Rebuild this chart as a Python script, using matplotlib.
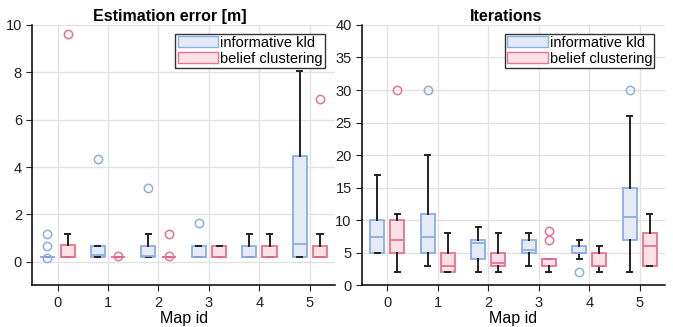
import numpy as np
import matplotlib
matplotlib.use("Agg")
from matplotlib import pyplot as plt
from matplotlib.patches import Patch

plt.rcParams['font.family'] = ['Liberation Sans', 'DejaVu Sans']

# ------------------------------------------------------------------------------
# Box statistics (per map id 0..5)
# ------------------------------------------------------------------------------
mapIds = [0, 1, 2, 3, 4, 5]
seriesNames = ['informative kld', 'belief clustering']

# Estimation error [m]
errKldMed = [0.2, 0.28, 0.25, 0.2, 0.2, 0.76]
errKldQ1 = [0.2, 0.2, 0.2, 0.2, 0.2, 0.2]
errKldQ3 = [0.2, 0.68, 0.68, 0.68, 0.68, 4.47]
errKldLo = [0.2, 0.2, 0.2, 0.2, 0.2, 0.2]
errKldHi = [0.2, 0.68, 1.17, 0.68, 1.17, 8.07]
errKldFly = [[1.17, 0.66, 0.18], [4.34], [3.11], [1.65], [], []]

errBcMed = [0.2, 0.2, 0.2, 0.2, 0.2, 0.2]
errBcQ1 = [0.2, 0.2, 0.2, 0.2, 0.2, 0.2]
errBcQ3 = [0.69, 0.2, 0.2, 0.68, 0.68, 0.68]
errBcLo = [0.2, 0.2, 0.2, 0.2, 0.2, 0.2]
errBcHi = [1.17, 0.2, 0.2, 0.68, 1.17, 1.17]
errBcFly = [[9.6], [0.25], [1.17, 0.25], [], [], [6.86]]

# Iterations
itKldMed = [7.5, 7.5, 6.5, 5.5, 5, 10.5]
itKldQ1 = [5, 5, 4, 5, 5, 7]
itKldQ3 = [10, 11, 7, 7, 6, 15]
itKldLo = [5, 3, 2, 3, 4, 2]
itKldHi = [17, 20, 9, 8, 7, 26]
itKldFly = [[], [30], [], [], [2], [30]]

itBcMed = [7, 3, 3.5, 4, 3, 6]
itBcQ1 = [5, 2, 3, 3, 3, 3]
itBcQ3 = [10, 5, 5, 4, 5, 8]
itBcLo = [2, 2, 2, 2, 2, 3]
itBcHi = [11, 8, 8, 4, 6, 11]
itBcFly = [[30], [], [], [8.3, 7.0], [], []]

blueEdge = '#8aaee6'
blueFill = '#e4ebf7'
redEdge = '#e8728f'
redFill = '#fce1e7'
whiskCol = '#222222'


def makeStats(med, q1, q3, lo, hi, fly):
    out = []
    for i in range(len(med)):
        out.append({'med': med[i], 'q1': q1[i], 'q3': q3[i],
                    'whislo': lo[i], 'whishi': hi[i], 'fliers': fly[i]})
    return out


def drawGroup(ax, stats, offset, edge, fill):
    pos = [m + offset for m in mapIds]
    ax.bxp(stats, positions=pos, widths=0.28, patch_artist=True,
           showfliers=True, capwidths=0.1,
           boxprops=dict(facecolor=fill, edgecolor=edge, linewidth=1.3),
           medianprops=dict(color=edge, linewidth=1.3),
           whiskerprops=dict(color=whiskCol, linewidth=1.4),
           capprops=dict(color=whiskCol, linewidth=1.4),
           flierprops=dict(marker='o', markerfacecolor='none',
                           markeredgecolor=edge, markersize=6,
                           markeredgewidth=1.1))


def styleAxis(ax, title, titleX, ylim, yticks):
    ax.set_xlim(-0.5, 5.5)
    ax.set_ylim(*ylim)
    ax.set_yticks(yticks)
    ax.set_xticks(mapIds)
    ax.set_xticklabels([str(m) for m in mapIds])
    ax.set_title(title, fontsize=11.5, fontweight='bold', pad=3, x=titleX)
    ax.set_xlabel('Map id', fontsize=11.5, labelpad=1)
    ax.grid(True, color='#e2e2e2', linewidth=1)
    ax.set_axisbelow(True)
    for s in ['top', 'right']:
        ax.spines[s].set_visible(False)
    ax.spines['left'].set_linewidth(1.1)
    ax.spines['bottom'].set_linewidth(1.1)
    ax.tick_params(labelsize=10.5, colors='#222222', length=4)
    handles = [Patch(facecolor=blueFill, edgecolor=blueEdge, label=seriesNames[0]),
               Patch(facecolor=redFill, edgecolor=redEdge, label=seriesNames[1])]
    leg = ax.legend(handles=handles, loc='upper right', bbox_to_anchor=(0.975, 0.978),
                    fontsize=10.5, fancybox=False, framealpha=1, borderpad=0.15,
                    handlelength=2.8, handleheight=0.75, handletextpad=0.1,
                    labelspacing=0.15, borderaxespad=0.2)
    leg.get_frame().set_edgecolor('#333333')
    leg.get_frame().set_linewidth(1.0)


fig = plt.figure(figsize=(6.73, 3.27), dpi=100)
ax1 = fig.add_axes([0.048, 0.127, 0.45, 0.797])
ax2 = fig.add_axes([0.538, 0.127, 0.45, 0.797])

drawGroup(ax1, makeStats(errKldMed, errKldQ1, errKldQ3, errKldLo, errKldHi, errKldFly), -0.2, blueEdge, blueFill)
drawGroup(ax1, makeStats(errBcMed, errBcQ1, errBcQ3, errBcLo, errBcHi, errBcFly), 0.2, redEdge, redFill)
styleAxis(ax1, 'Estimation error [m]', 0.455, (-1, 10), [0, 2, 4, 6, 8, 10])

drawGroup(ax2, makeStats(itKldMed, itKldQ1, itKldQ3, itKldLo, itKldHi, itKldFly), -0.2, blueEdge, blueFill)
drawGroup(ax2, makeStats(itBcMed, itBcQ1, itBcQ3, itBcLo, itBcHi, itBcFly), 0.2, redEdge, redFill)
styleAxis(ax2, 'Iterations', 0.475, (0, 40), [0, 5, 10, 15, 20, 25, 30, 35, 40])

fig.savefig('out.png', dpi=100)
